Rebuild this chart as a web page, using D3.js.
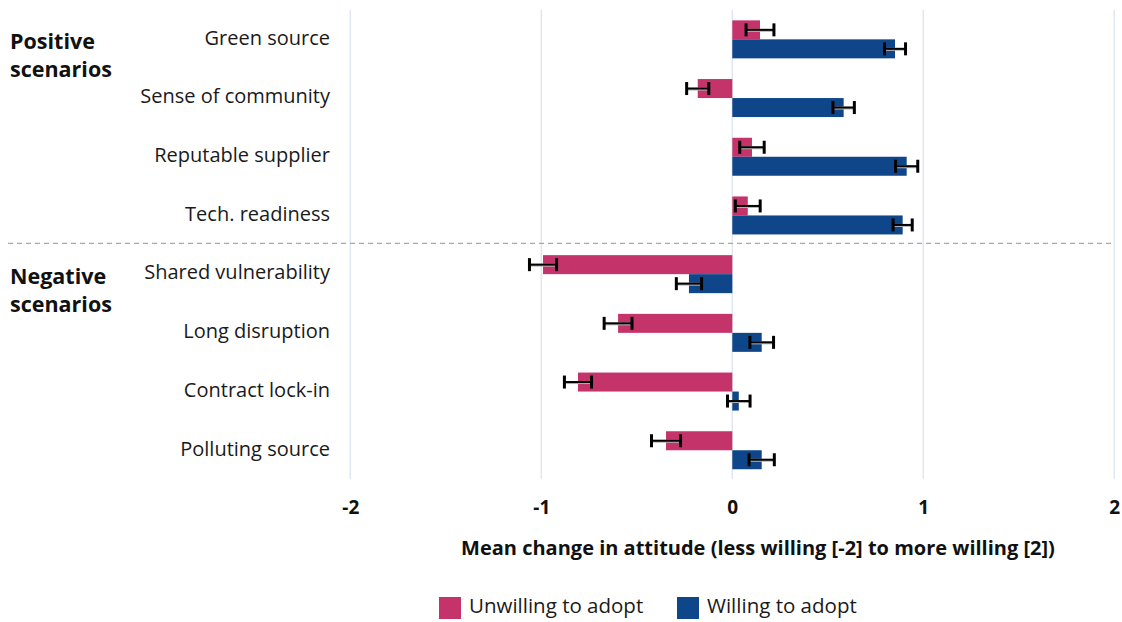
<!DOCTYPE html>
<html>
<head>
<meta charset="utf-8">
<script src="https://cdn.jsdelivr.net/npm/d3@7"></script>
<style>
  html, body { margin: 0; padding: 0; background: #fff; }
  svg { display: block; font-family: "Open Sans", Lato, sans-serif; }
</style>
</head>
<body>
<svg id="chart" width="1122" height="622"></svg>
<script>
// Scenario categories, top to bottom
const categories = [
  "Green source", "Sense of community", "Reputable supplier", "Tech. readiness",
  "Shared vulnerability", "Long disruption", "Contract lock-in", "Polluting source"
];
// Mean change in attitude per group
const unwillingMeans = [0.145, -0.181, 0.103, 0.081, -0.991, -0.598, -0.808, -0.347];
const willingMeans   = [0.852, 0.583, 0.913, 0.892, -0.227, 0.154, 0.034, 0.154];
// Half-width of the error bars
const unwillingErr = [0.073, 0.058, 0.064, 0.065, 0.071, 0.073, 0.071, 0.076];
const willingErr   = [0.055, 0.056, 0.058, 0.050, 0.066, 0.062, 0.059, 0.066];

const seriesNames = ["Unwilling to adopt", "Willing to adopt"];
const seriesColors = ["#c5336b", "#0e4689"];
const xTicks = [-2, -1, 0, 1, 2];
const groupLabels = [["Positive", "scenarios"], ["Negative", "scenarios"]];
const groupStarts = ["Green source", "Shared vulnerability"];

const svg = d3.select("#chart");

const x = d3.scaleLinear().domain([-2, 2]).range([350.3, 1114.3]);
const y = d3.scaleBand().domain(categories).range([10, 479.6]).paddingInner(0).paddingOuter(0);
const inner = d3.scaleBand().domain(seriesNames).range([0, y.bandwidth()]).paddingInner(0).paddingOuter(0.545);

// vertical gridlines
svg.append("g").selectAll("line").data(xTicks).join("line")
  .attr("x1", d => x(d)).attr("x2", d => x(d))
  .attr("y1", 10).attr("y2", 479)
  .attr("stroke", "#dfe7f2").attr("stroke-width", 1.5);

// dashed separator between positive and negative scenarios
svg.append("line")
  .attr("x1", 8).attr("x2", 1114)
  .attr("y1", y(groupStarts[1]) - 1.5).attr("y2", y(groupStarts[1]) - 1.5)
  .attr("stroke", "#a9a9a9").attr("stroke-width", 1.2).attr("stroke-dasharray", "5,4");

const rows = categories.map((c, i) => ([
  { cat: c, series: seriesNames[0], v: unwillingMeans[i], e: unwillingErr[i], color: seriesColors[0] },
  { cat: c, series: seriesNames[1], v: willingMeans[i], e: willingErr[i], color: seriesColors[1] }
])).flat();

// bars
svg.append("g").selectAll("rect").data(rows).join("rect")
  .attr("x", d => Math.min(x(0), x(d.v)))
  .attr("width", d => Math.abs(x(d.v) - x(0)))
  .attr("y", d => y(d.cat) + inner(d.series))
  .attr("height", inner.bandwidth())
  .attr("fill", d => d.color);

// error bars
const eb = svg.append("g").selectAll("g").data(rows).join("g")
  .attr("transform", d => `translate(0,${y(d.cat) + inner(d.series) + inner.bandwidth() / 2})`);
eb.append("line")
  .attr("x1", d => x(d.v - d.e)).attr("x2", d => x(d.v + d.e))
  .attr("y1", 0.5).attr("y2", 0.5)
  .attr("stroke", "#b5b5b5").attr("stroke-width", 3);
eb.append("line")
  .attr("x1", d => x(d.v - d.e)).attr("x2", d => x(d.v + d.e))
  .attr("y1", 0).attr("y2", 0)
  .attr("stroke", "#000").attr("stroke-width", 2);
eb.selectAll("line.cap").data(d => [x(d.v - d.e), x(d.v + d.e)]).join("line")
  .attr("class", "cap")
  .attr("x1", d => d).attr("x2", d => d)
  .attr("y1", -6.5).attr("y2", 6.5)
  .attr("stroke", "#000").attr("stroke-width", 3);

// category labels
svg.append("g").selectAll("text").data(categories).join("text")
  .attr("x", 330).attr("y", d => y(d) + y.bandwidth() / 2)
  .attr("text-anchor", "end").attr("dominant-baseline", "middle")
  .attr("font-size", 20).attr("fill", "#1a1a1a")
  .text(d => d);

// group labels
groupLabels.forEach((lines, gi) => {
  const t = svg.append("text")
    .attr("x", 10).attr("y", y(groupStarts[gi]) + 39)
    .attr("font-size", 21.5).attr("font-weight", "bold").attr("fill", "#111");
  lines.forEach((l, li) => t.append("tspan").attr("x", 10).attr("dy", li === 0 ? 0 : 28).text(l));
});

// x axis tick labels
const xAxis = d3.axisBottom(x).tickValues(xTicks).tickSize(0).tickPadding(0)
  .tickFormat(d3.format("d"));
const ax = svg.append("g").attr("transform", "translate(0,500)").call(xAxis);
ax.select(".domain").remove();
ax.selectAll("text")
  .attr("font-family", "'Open Sans', Lato, sans-serif")
  .attr("font-size", 19).attr("font-weight", "bold").attr("fill", "#111")
  .text(function(d) { return d < 0 ? "-" + Math.abs(d) : d; });

// x axis title
svg.append("text")
  .attr("x", 758).attr("y", 555)
  .attr("text-anchor", "middle")
  .attr("font-size", 20).attr("font-weight", "bold").attr("fill", "#111")
  .text("Mean change in attitude (less willing [-2] to more willing [2])");

// legend
const legendX = [439, 677];
const lg = svg.append("g").selectAll("g").data(seriesNames).join("g")
  .attr("transform", (d, i) => `translate(${legendX[i]},597)`);
lg.append("rect").attr("width", 22).attr("height", 22)
  .attr("fill", (d, i) => seriesColors[i]);
lg.append("text").attr("x", 30).attr("y", 11).attr("dominant-baseline", "middle")
  .attr("font-size", 20.5).attr("fill", "#1a1a1a")
  .text(d => d);
</script>
</body>
</html>
